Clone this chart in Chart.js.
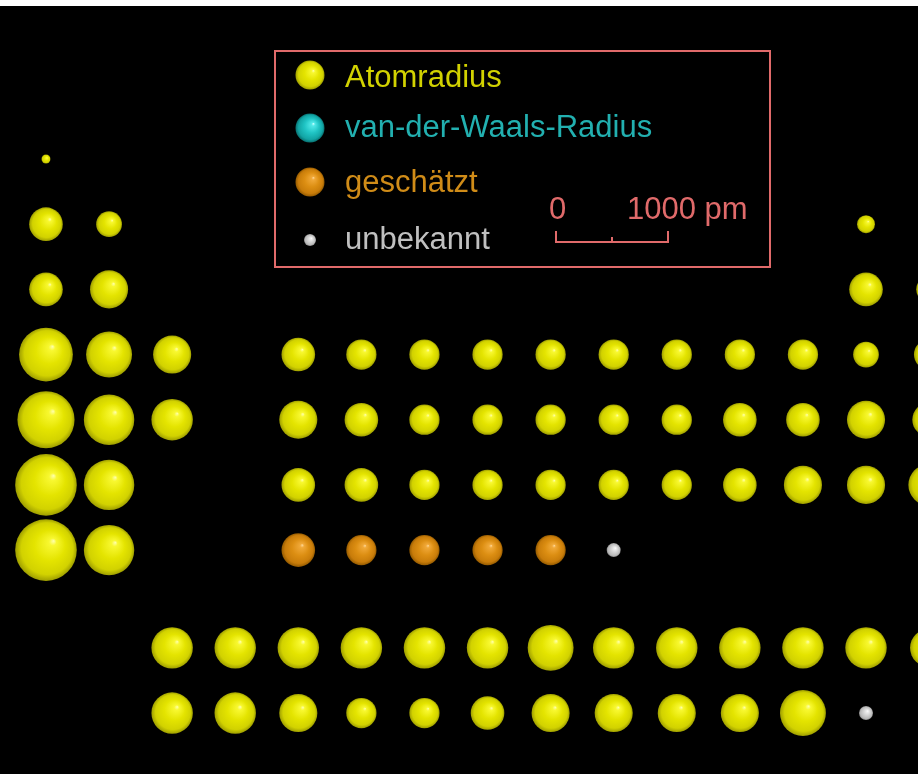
<!DOCTYPE html>
<html>
<head>
<meta charset="utf-8">
<title>Atomradien</title>
<script src="https://cdn.jsdelivr.net/npm/chart.js@4.4.1/dist/chart.umd.min.js"></script>
<style>
  html, body { margin: 0; padding: 0; background: #fff; overflow: hidden; }
  #wrap { position: absolute; left: 0; top: 6px; width: 918px; height: 768px; background: #000; }
  canvas { display: block; }
</style>
</head>
<body>
<div id="wrap"><canvas id="radii" width="918" height="768"></canvas></div>
<script>
// Elements visible in this part of the table
const symbols = [
    'H',
    'Li', 'Be', 'B',
    'Na', 'Mg', 'Al', 'Si',
    'K', 'Ca', 'Sc', 'Ti', 'V', 'Cr', 'Mn', 'Fe', 'Co', 'Ni', 'Cu', 'Zn', 'Ga', 'Ge',
    'Rb', 'Sr', 'Y', 'Zr', 'Nb', 'Mo', 'Tc', 'Ru', 'Rh', 'Pd', 'Ag', 'Cd', 'In', 'Sn',
    'Cs', 'Ba', 'Hf', 'Ta', 'W', 'Re', 'Os', 'Ir', 'Pt', 'Au', 'Hg', 'Tl', 'Pb',
    'Fr', 'Ra', 'Rf', 'Db', 'Sg', 'Bh', 'Hs', 'Mt',
    'La', 'Ce', 'Pr', 'Nd', 'Pm', 'Sm', 'Eu', 'Gd', 'Tb', 'Dy', 'Ho', 'Er', 'Tm',
    'Ac', 'Th', 'Pa', 'U', 'Np', 'Pu', 'Am', 'Cm', 'Bk', 'Cf', 'Es', 'Fm'
];

// column in the table (4 is the empty slot before Ti)
const columns = [
    1,
    1, 2, 14,
    1, 2, 14, 15,
    1, 2, 3, 5, 6, 7, 8, 9, 10, 11, 12, 13, 14, 15,
    1, 2, 3, 5, 6, 7, 8, 9, 10, 11, 12, 13, 14, 15,
    1, 2, 5, 6, 7, 8, 9, 10, 11, 12, 13, 14, 15,
    1, 2, 5, 6, 7, 8, 9, 10,
    3, 4, 5, 6, 7, 8, 9, 10, 11, 12, 13, 14, 15,
    3, 4, 5, 6, 7, 8, 9, 10, 11, 12, 13, 14
];

// period; lanthanides and actinides sit below as 8.5 / 9.5
const periods = [
    1,
    2, 2, 2,
    3, 3, 3, 3,
    4, 4, 4, 4, 4, 4, 4, 4, 4, 4, 4, 4, 4, 4,
    5, 5, 5, 5, 5, 5, 5, 5, 5, 5, 5, 5, 5, 5,
    6, 6, 6, 6, 6, 6, 6, 6, 6, 6, 6, 6, 6,
    7, 7, 7, 7, 7, 7, 7, 7,
    8.5, 8.5, 8.5, 8.5, 8.5, 8.5, 8.5, 8.5, 8.5, 8.5, 8.5, 8.5, 8.5,
    9.5, 9.5, 9.5, 9.5, 9.5, 9.5, 9.5, 9.5, 9.5, 9.5, 9.5, 9.5
];

// radius in pm, null = unknown
const radiusPm = [
    40,
    150, 115, 80,
    150, 170, 150, 115,
    240, 205, 170, 150, 135, 135, 135, 135, 135, 135, 135, 135, 115, 135,
    255, 225, 185, 170, 150, 135, 135, 135, 135, 135, 150, 150, 170, 150,
    275, 225, 150, 150, 135, 135, 135, 135, 135, 150, 170, 170, 185,
    275, 225, 150, 135, 135, 135, 135, null,
    185, 185, 185, 185, 185, 185, 205, 185, 185, 185, 185, 185, 170,
    185, 185, 170, 135, 135, 150, 170, 170, 170, 170, 205, null
];

// m = measured atomic radius, e = estimated, u = unknown
const source = [
    'm',
    'm', 'm', 'm',
    'm', 'm', 'm', 'm',
    'm', 'm', 'm', 'm', 'm', 'm', 'm', 'm', 'm', 'm', 'm', 'm', 'm', 'm',
    'm', 'm', 'm', 'm', 'm', 'm', 'm', 'm', 'm', 'm', 'm', 'm', 'm', 'm',
    'm', 'm', 'm', 'm', 'm', 'm', 'm', 'm', 'm', 'm', 'm', 'm', 'm',
    'm', 'm', 'e', 'e', 'e', 'e', 'e', 'u',
    'm', 'm', 'm', 'm', 'm', 'm', 'm', 'm', 'm', 'm', 'm', 'm', 'm',
    'm', 'm', 'm', 'm', 'm', 'm', 'm', 'm', 'm', 'm', 'm', 'u'
];

const PX_PER_PM = 0.112;   // 1000 pm scale bar = 112 px
const UNKNOWN_R = 7;
const SCALE_COLOR = '#e06a6a';

const shades = {
    yellow: ['#ffffb0', '#f8f830', '#e4e400', '#d2d200', '#9e9e00'],
    cyan:   ['#d0ffff', '#50e8e8', '#20c4c4', '#12a4a4', '#087070'],
    orange: ['#ffd898', '#f0a838', '#dc8e12', '#c87c0a', '#945a00'],
    gray:   ['#ffffff', '#f0f0f0', '#d2d2d2', '#b8b8b8', '#8a8a8a']
};
const STOPS = [0, 0.12, 0.5, 0.84, 1];

function sphere(ctx, colors, x, y, r) {
    if (![x, y, r].every(Number.isFinite) || r <= 0) return colors[2];
    const g = ctx.createRadialGradient(x + r * 0.25, y - r * 0.3, 0, x, y, r);
    colors.forEach((c, i) => g.addColorStop(STOPS[i], c));
    return g;
}

const sphereFill = colors => c => {
    if (c.type !== 'data' || !c.raw) return colors[2];
    const { x, y } = c.chart.scales;
    if (!x || !y) return colors[2];
    const r = c.raw.r ?? UNKNOWN_R;
    return sphere(c.chart.ctx, colors, x.getPixelForValue(c.raw.x), y.getPixelForValue(c.raw.y), r);
};

const pointsFor = kind => symbols
    .map((s, i) => ({ s, i }))
    .filter(p => source[p.i] === kind)
    .map(({ s, i }) => {
        const pt = { x: columns[i], y: periods[i], label: s };
        if (radiusPm[i] !== null) pt.r = radiusPm[i] * PX_PER_PM;
        return pt;
    });

const datasets = [
    { label: 'Atomradius', shade: 'yellow', data: pointsFor('m') },
    { label: 'van-der-Waals-Radius', shade: 'cyan', data: [] },
    { label: 'geschätzt', shade: 'orange', data: pointsFor('e') },
    { label: 'unbekannt', shade: 'gray', data: pointsFor('u'), radius: UNKNOWN_R }
].map(ds => ({
    ...ds,
    backgroundColor: sphereFill(shades[ds.shade]),
    borderWidth: 0
}));

const textColors = ['#d2d200', '#22b0b0', '#d08c18', '#c0c0c0'];

// legend box with scale bar
const legendBox = {
    id: 'legendBox',
    afterDraw(chart) {
        const ctx = chart.ctx;
        ctx.save();
        ctx.strokeStyle = SCALE_COLOR;
        ctx.lineWidth = 2;
        ctx.strokeRect(275, 45, 495, 216);

        const iconY = [69, 122, 176, 234];
        const textY = [81, 131, 186, 243];
        ctx.font = '31px "Liberation Sans", Arial, sans-serif';
        ctx.textBaseline = 'alphabetic';
        chart.data.datasets.forEach((ds, i) => {
            const r = i === 3 ? 6 : 14.5;
            ctx.fillStyle = sphere(ctx, shades[ds.shade], 310, iconY[i], r);
            ctx.beginPath();
            ctx.arc(310, iconY[i], r, 0, Math.PI * 2);
            ctx.fill();
            ctx.fillStyle = textColors[i];
            ctx.fillText(ds.label, 345, textY[i]);
        });

        // scale bar: 0 ... 1000 pm
        const x0 = 556, yBar = 236, len = 1000 * PX_PER_PM;
        ctx.fillStyle = SCALE_COLOR;
        ctx.fillText('0', 549, 213);
        ctx.fillText('1000 pm', 627, 213);
        ctx.lineWidth = 2;
        ctx.beginPath();
        ctx.moveTo(x0, 225); ctx.lineTo(x0, yBar);
        ctx.lineTo(x0 + len, yBar); ctx.lineTo(x0 + len, 225);
        ctx.moveTo(x0 + len / 2, 231); ctx.lineTo(x0 + len / 2, yBar);
        ctx.stroke();
        ctx.restore();
    }
};

new Chart(document.getElementById('radii'), {
    type: 'bubble',
    data: { datasets },
    options: {
        responsive: false,
        animation: false,
        events: [],
        layout: { padding: 0, autoPadding: false },
        plugins: {
            legend: { display: false },
            tooltip: { enabled: false }
        },
        scales: {
            x: { type: 'linear', min: 0.271, max: 14.824, display: false },
            y: { type: 'linear', min: -1.347, max: 10.435, reverse: true, display: false }
        }
    },
    plugins: [legendBox]
});
</script>
</body>
</html>
